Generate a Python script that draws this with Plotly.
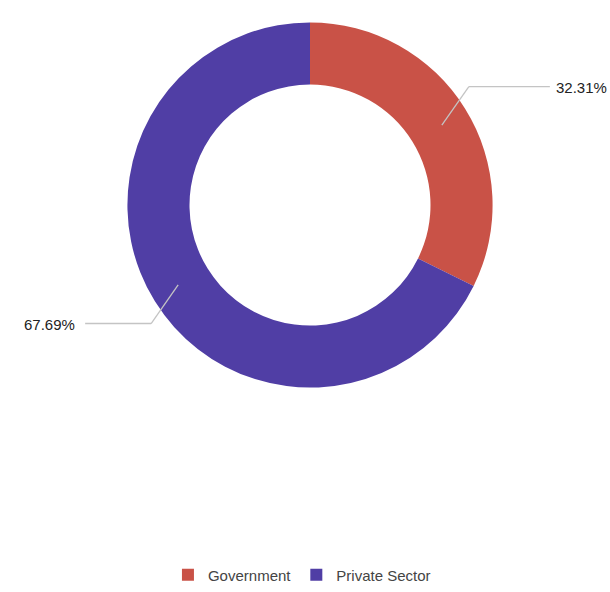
import math
import plotly.graph_objects as go

labels = ["Government", "Private Sector"]
values = [32.31, 67.69]
colors = ["#C95247", "#503EA5"]

W, H = 610, 592
cx, cy, R = 310, 210, 187
hole = 0.66

fig = go.Figure(go.Pie(
    labels=labels, values=values, hole=hole, sort=False, direction="clockwise",
    rotation=0, marker=dict(colors=colors, line=dict(width=0)),
    textinfo="none", hoverinfo="label+percent",
    domain=dict(x=[(cx - R) / W, (cx + R) / W], y=[(H - cy - R) / H, (H - cy + R) / H]),
))

def px(x, y):
    return x / W, (H - y) / H

shapes, annots = [], []
total = sum(values)
start = 0.0
for lab, v in zip(labels, values):
    mid = (start + v / 2) / total * 2 * math.pi
    start += v
    s, c = math.sin(mid), math.cos(mid)
    r1 = R * (1 + hole) / 2
    p1 = (cx + r1 * s, cy - r1 * c)
    p2 = (cx + R * 1.0 * s, cy - R * 1.23 * c)
    right = s > 0
    p3 = (p2[0] + (81 if right else -66), p2[1])
    for a, b in [(p1, p2), (p2, p3)]:
        x0, y0 = px(*a)
        x1, y1 = px(*b)
        shapes.append(dict(type="line", xref="paper", yref="paper", x0=x0, y0=y0, x1=x1, y1=y1,
                           line=dict(color="#c4c4c4", width=1.3)))
    tx, ty = px(p3[0] + (4 if right else -8), p3[1] + 1)
    annots.append(dict(text=f"{v:.2f}%", x=tx, y=ty, xref="paper", yref="paper", showarrow=False,
                       xanchor="left" if right else "right", yanchor="middle",
                       font=dict(size=15, color="#222222")))

fig.update_layout(
    width=W, height=H, margin=dict(l=0, r=0, t=0, b=0),
    paper_bgcolor="white", plot_bgcolor="white",
    font=dict(family="Liberation Sans, Arial, sans-serif", size=14, color="#333333"),
    shapes=shapes, annotations=annots,
    showlegend=True,
    legend=dict(orientation="h", x=0.495, xanchor="center", y=(H - 589) / H, yanchor="middle",
                font=dict(size=15, color="#444444"), itemwidth=30, tracegroupgap=0),
)

fig.write_html("out.html")
